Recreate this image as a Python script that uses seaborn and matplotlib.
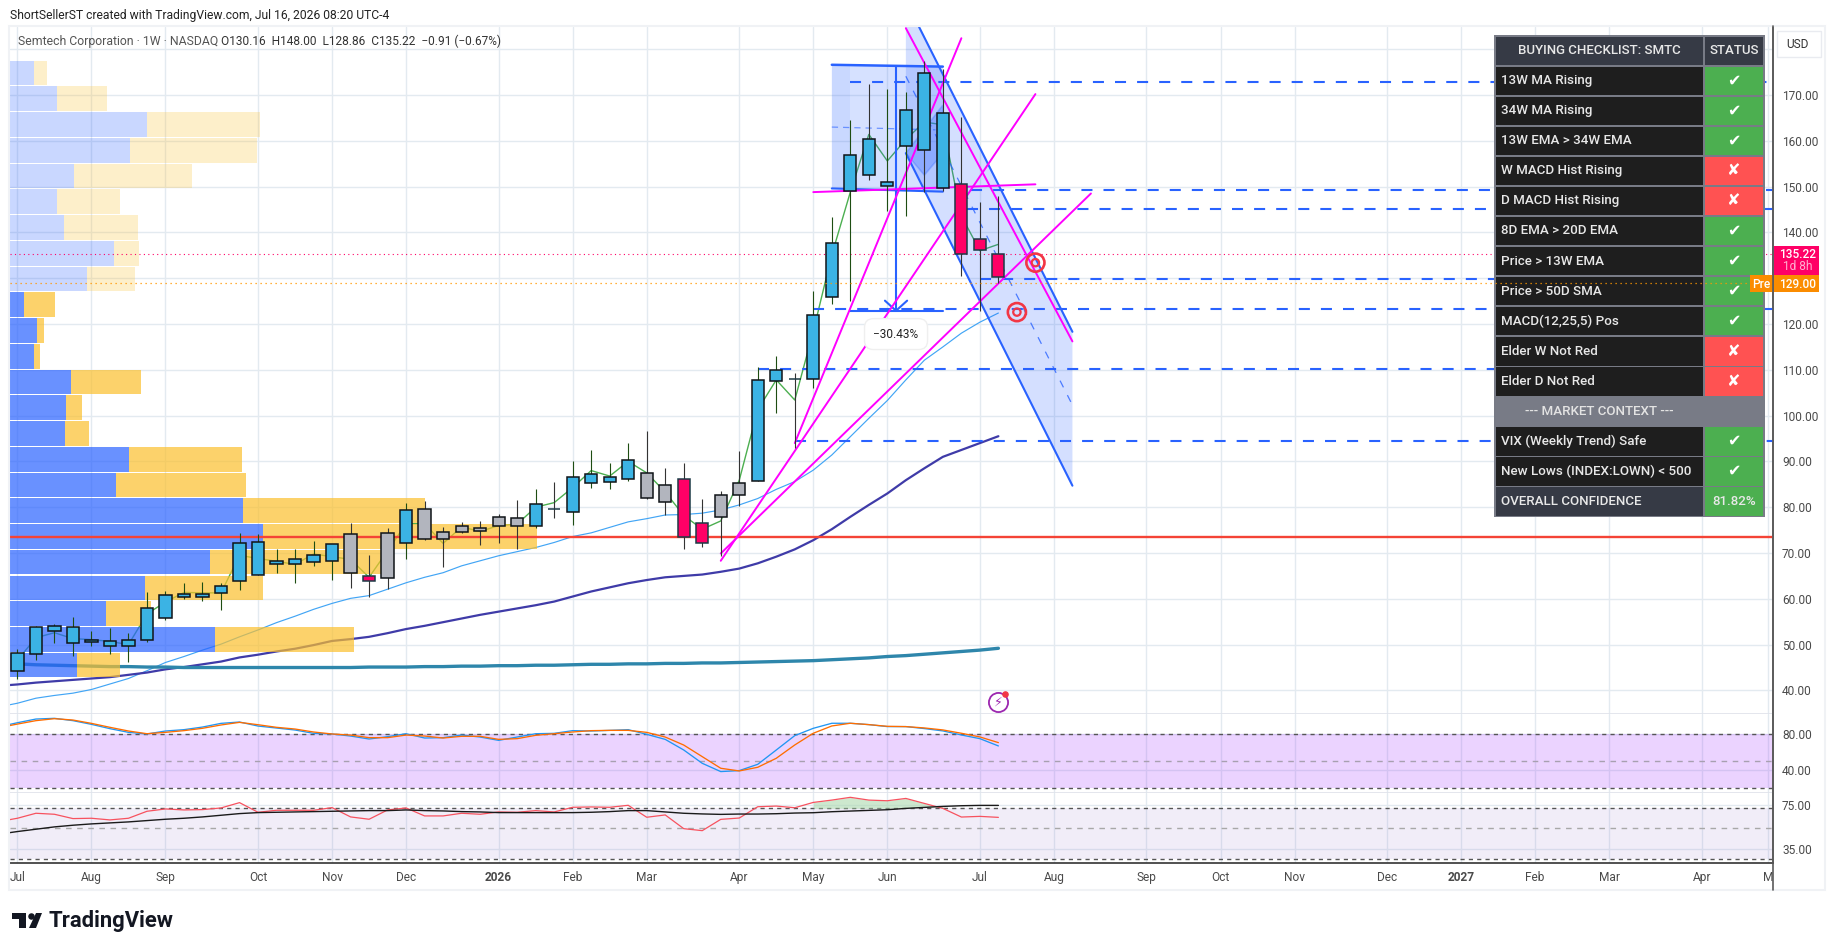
import matplotlib
matplotlib.use("Agg")
import matplotlib.pyplot as plt
from matplotlib.patches import Polygon, Rectangle
import numpy as np
import seaborn as sns

# Weekly candles, prices
body_high = [48.1, 53.8, 54.0, 53.8, 50.9, 50.7, 51.1, 58.1, 60.8, 61.0, 61.0, 62.9, 72.1, 72.3,
             68.2, 68.6, 69.5, 71.9, 74.1, 64.9, 74.3, 79.5, 79.7, 74.5, 76.0, 75.4, 77.8, 77.6,
             80.6, 79.7, 86.5, 87.2, 86.7, 90.3, 87.4, 84.8, 86.1, 76.6, 82.6, 85.2, 107.7, 109.9,
             108.1, 121.9, 137.6, 156.8, 160.3, 150.9, 166.7, 174.7, 166.0, 150.5, 138.5, 135.22]
body_low = [44.2, 47.9, 53.0, 50.3, 50.5, 49.8, 49.8, 51.1, 55.9, 60.3, 60.3, 61.2, 63.8, 65.3,
            67.7, 67.7, 68.0, 68.2, 65.6, 63.8, 64.5, 72.1, 73.0, 73.0, 74.5, 74.9, 76.0, 76.0,
            76.0, 79.7, 78.9, 85.2, 85.6, 86.1, 82.1, 81.1, 73.6, 72.2, 77.9, 82.6, 85.7, 107.5,
            108.1, 108.1, 125.8, 149.1, 152.5, 150.1, 158.8, 158.1, 149.6, 135.2, 136.1, 130.16]
wick_high = [49.0, 54.1, 54.5, 56.1, 52.9, 53.6, 52.6, 61.5, 61.7, 63.4, 63.7, 63.5, 74.4, 74.1,
             70.9, 70.8, 72.6, 71.9, 76.5, 69.6, 75.5, 81.0, 81.4, 75.7, 76.8, 77.0, 78.5, 81.6,
             84.0, 85.5, 90.1, 92.5, 89.6, 94.0, 96.6, 88.6, 89.6, 81.8, 83.5, 92.3, 110.6, 113.0,
             109.3, 127.2, 143.4, 164.5, 172.4, 171.3, 170.65, 177.4, 175.6, 165.2, 146.6, 148.0]
wick_low = [42.6, 46.6, 50.4, 47.5, 49.8, 47.9, 46.2, 50.6, 55.4, 60.0, 59.6, 57.6, 61.9, 65.2,
            65.6, 63.5, 67.2, 64.2, 62.4, 60.5, 62.1, 68.7, 72.8, 67.0, 74.3, 71.8, 72.1, 70.9,
            75.5, 77.7, 76.2, 84.3, 84.0, 85.8, 81.9, 78.3, 70.9, 71.3, 69.3, 80.3, 85.65, 100.6,
            92.9, 106.1, 124.4, 125.1, 151.4, 144.7, 143.65, 148.9, 149.0, 130.5, 122.9, 128.86]
# b blue, B blue with dark wick, g grey, p pink, d doji
candle_state = "bbbbbbbbbbbbbbbbbbgpgbggggggbdbbbbggpp" + "ggbbdbbbBbbBBppp"

hlc_line = [46.6, 51.5, 52.6, 51.3, 51.1, 50.7, 50.0, 56.7, 59.3, 61.4, 61.3, 61.3, 69.5, 68.8,
            68.2, 67.5, 69.8, 69.2, 68.6, 64.7, 70.5, 76.4, 76.4, 72.1, 75.7, 74.7, 76.0, 76.3,
            80.0, 81.0, 84.3, 88.0, 86.8, 90.0, 87.5, 83.3, 78.2, 75.2, 77.0, 85.9, 101.3, 107.8,
            103.4, 118.4, 135.1, 148.8, 161.4, 155.6, 160.3, 164.1, 163.5, 143.6, 136.0, 137.4]
# The next series start one bar before the first candle, off the left edge
ema_fast = [36.4, 37.2, 38.3, 38.9, 39.4, 40.2, 41.4, 42.6, 44.3, 46.1, 47.4, 48.8, 50.1, 51.7, 53.2,
            54.8, 56.2, 57.7, 59.0, 60.1, 60.7, 62.1, 63.5, 64.7, 65.7, 67.2, 68.3, 69.4, 70.3,
            71.2, 72.3, 73.6, 74.4, 75.6, 76.8, 77.5, 78.3, 78.4, 78.7, 79.4, 80.5, 81.9, 83.9,
            85.6, 88.1, 91.4, 95.4, 99.4, 103.3, 107.8, 112.1, 115.0, 118.0, 120.4, 122.4]
ema_slow = [41.0, 41.3, 41.7, 42.0, 42.3, 42.6, 42.9, 43.4, 43.9, 44.6, 45.1, 45.7, 46.3, 47.2, 47.8,
            48.5, 49.1, 49.9, 50.8, 51.2, 51.7, 52.5, 53.4, 54.1, 54.9, 55.7, 56.5, 57.2, 57.9,
            58.6, 59.4, 60.5, 61.6, 62.5, 63.4, 64.1, 64.7, 65.0, 65.3, 65.9, 66.6, 67.75, 69.2,
            70.8, 72.8, 75.2, 77.9, 80.5, 83.0, 85.9, 88.5, 91.0, 92.5, 94.0, 95.5]
stoch_k = [88.0, 92.5, 96.6, 97.4, 94.8, 90.7, 85.9, 81.8, 80.0, 83.3, 84.8, 87.7, 91.8, 93.3, 88.8,
           86.6, 84.4, 80.7, 80.0, 77.7, 74.4, 77.0, 80.3, 75.5, 75.9, 78.8, 76.6, 72.9, 76.6,
           80.3, 80.7, 83.7, 83.3, 84.0, 84.8, 79.6, 74.0, 62.2, 47.4, 38.2, 39.3, 46.3, 62.2,
           78.2, 86.3, 91.9, 91.9, 90.4, 88.2, 88.2, 86.0, 83.4, 78.9, 74.8, 66.7]
stoch_d = [87.0, 91.0, 94.8, 97.0, 95.5, 91.8, 87.4, 83.3, 80.3, 81.8, 83.7, 86.3, 90.0, 92.9, 90.3,
           87.4, 85.5, 82.2, 80.0, 78.8, 75.9, 75.9, 78.8, 77.7, 75.5, 77.4, 77.4, 74.0, 74.8,
           78.5, 80.3, 82.2, 83.7, 84.0, 84.0, 81.8, 76.6, 67.7, 54.8, 41.9, 38.9, 43.0, 53.0,
           67.8, 80.8, 88.9, 91.9, 90.4, 88.5, 88.2, 86.7, 84.5, 80.8, 76.7, 70.4]
rsi_line = [60.0, 63.0, 67.5, 66.6, 62.7, 63.0, 61.5, 63.0, 69.3, 71.4, 70.5, 70.8, 72.3, 77.1, 68.4,
            70.2, 70.2, 70.2, 72.6, 64.2, 62.1, 70.5, 72.3, 65.1, 65.1, 67.5, 66.6, 68.7, 68.4,
            69.9, 68.7, 72.9, 73.2, 72.9, 74.7, 63.9, 66.0, 53.6, 51.8, 62.0, 63.2, 73.4, 74.0,
            72.5, 77.3, 79.4, 81.9, 79.4, 78.8, 80.9, 76.4, 71.9, 64.1, 64.7, 63.8]
rsi_ma = [48.6, 51.0, 53.1, 55.2, 56.7, 57.9, 58.8, 59.7, 60.9, 62.1, 63.0, 64.2, 65.7, 67.2, 68.1,
          68.4, 68.7, 69.0, 69.3, 69.6, 69.9, 69.9, 70.5, 69.9, 69.6, 69.0, 68.7, 68.1, 68.1,
          68.1, 68.1, 68.1, 68.4, 69.0, 69.9, 69.9, 68.7, 67.5, 66.9, 66.5, 66.8, 66.8, 67.1,
          67.7, 68.0, 68.9, 69.5, 70.1, 70.7, 71.9, 72.8, 73.7, 74.3, 74.6, 74.6]
sma_long = [45.8, 45.6, 45.5, 45.4, 45.3, 45.2, 45.2, 45.1, 45.1, 45.0, 45.0, 45.0, 45.0, 45.0,
            45.0, 45.0, 45.0, 45.0, 45.0, 45.1, 45.1, 45.1, 45.2, 45.2, 45.3, 45.3, 45.4, 45.4,
            45.5, 45.5, 45.6, 45.7, 45.7, 45.8, 45.8, 45.9, 45.9, 46.0, 46.0, 46.1, 46.2, 46.3,
            46.4, 46.5, 46.7, 46.9, 47.1, 47.4, 47.6, 47.9, 48.2, 48.5, 48.8, 49.2]

# Volume profile, top row first
vol_up = [24, 47, 137, 120, 64, 47, 54, 104, 77, 14, 27, 24, 61, 56, 55, 119, 106, 233, 253, 200,
          135, 96, 205, 67]
vol_total = [37, 97, 250, 247, 182, 110, 128, 129, 125, 45, 34, 30, 131, 72, 79, 232, 236, 415,
             527, 371, 253, 141, 344, 110]

# Axis ticks
month_ticks = [0, 4, 8, 13, 17, 21, 26, 30, 34, 39, 43, 47, 52, 56, 61, 65, 69, 74, 78, 82, 86, 91, 94.6]
month_labels = ["Jul", "Aug", "Sep", "Oct", "Nov", "Dec", "2026", "Feb", "Mar", "Apr", "May", "Jun",
                "Jul", "Aug", "Sep", "Oct", "Nov", "Dec", "2027", "Feb", "Mar", "Apr", "M"]
price_ticks = [40, 50, 60, 70, 80, 90, 100, 110, 120, 130, 140, 150, 160, 170, 180]
hidden_prices = [130, 180]

# Blue level rays: price, first bar
ray_prices = [172.8, 149.3, 145.1, 129.9, 123.3, 110.2, 94.4]
ray_starts = [45, 51.5, 51.3, 52, 43, 40, 42]

# Magenta trend lines: bar and price at both ends
trend_x = [[43, 55], [48, 57], [51, 42], [55, 38], [38, 58]]
trend_y = [[148.8, 150.5], [184.6, 116.2], [182.4, 94.0], [170.2, 68.3], [69.9, 148.5]]

checklist_labels = ["13W MA Rising", "34W MA Rising", "13W EMA > 34W EMA", "W MACD Hist Rising",
                    "D MACD Hist Rising", "8D EMA > 20D EMA", "Price > 13W EMA", "Price > 50D SMA",
                    "MACD(12,25,5) Pos", "Elder W Not Red", "Elder D Not Red", None,
                    "VIX (Weekly Trend) Safe", "New Lows (INDEX:LOWN) < 500"]
checklist_pass = [True, True, True, False, False, True, True, True, True, False, False, None, True, True]

W, H = 1835, 951
BAR_PX = 18.51
BLUE = "#2962FF"
MAGENTA = "#FF00FF"
TEXT_FONT = ["Roboto", "DejaVu Sans"]

sns.set_theme(style="white")
plt.rcParams["font.family"] = TEXT_FONT


def price_pane(top, bottom):
    """ Adds an axes that spans the chart width between two pixel rows. """
    return fig.add_axes([10 / W, 1 - bottom / H, 1763 / W, (bottom - top) / H])


def draw_line(axes, values, color, width, z, first_bar=0):
    """ Draws one weekly series with seaborn. """
    bars = np.arange(len(values)) + first_bar
    sns.lineplot(x=bars, y=values, ax=axes, color=color, linewidth=width, zorder=z,
                 legend=False, errorbar=None)


fig = plt.figure(figsize=(W / 100, H / 100), dpi=100, facecolor="white")
ax = price_pane(27, 714)
ax_stoch = price_pane(714, 793)
ax_rsi = price_pane(793, 863)

for pane in (ax, ax_stoch, ax_rsi):
    pane.set_xlim(-0.4, 94.85)
    pane.set_xticks(month_ticks)
    pane.grid(True, axis="both", color="#E3EAF0", linewidth=1.0)
    pane.set_axisbelow(True)
    pane.yaxis.tick_right()
    pane.tick_params(axis="both", length=0, labelsize=8.6, labelcolor="#4A4A4A", pad=6.5)
    pane.tick_params(axis="x", labelbottom=False)
    for side in ("top", "left"):
        pane.spines[side].set_visible(False)
    pane.spines["bottom"].set_color("#E0E3EB")
    pane.spines["right"].set_color("#5A5A5A")
    pane.spines["right"].set_linewidth(1.2)

# Main price pane
ax.set_ylim(34.85, 184.85)
ax.set_yticks(price_ticks)
ax.set_yticklabels(["" if p in hidden_prices else f"{p:.2f}" for p in price_ticks])

draw_line(ax, hlc_line, "#4CAF50", 1.0, 1.5)
draw_line(ax, ema_fast, "#42A5F5", 0.85, 1.5, first_bar=-1)
draw_line(ax, ema_slow, "#3F3BA8", 1.6, 1.5, first_bar=-1)
draw_line(ax, sma_long, "#2E86AB", 2.4, 1.5)

# Volume profile
row_step = 5.62
row_centers = 177.6 - (np.arange(len(vol_up)) + 0.5) * row_step
vol_alpha = [0.25 if i < 9 else 0.7 for i in range(len(vol_up))]
for c, up, total, a in zip(row_centers, vol_up, vol_total, vol_alpha):
    ax.barh(c, up / BAR_PX, left=-0.4, height=row_step * 0.96, color=BLUE, alpha=a, lw=0, zorder=2)
    ax.barh(c, (total - up) / BAR_PX, left=-0.4 + up / BAR_PX, height=row_step * 0.96,
            color="#FBC02D", alpha=a, lw=0, zorder=2)

ax.axhline(73.5, color="#F44336", linewidth=1.7, zorder=3)
ax.axhline(135.22, color="#FF0066", linewidth=0.8, linestyle=(0, (1, 3)), zorder=3)

# Measured price range box
ax.add_patch(Polygon([(44, 176.6), (50, 176.2), (50, 148.9), (44, 149.6)], fc=BLUE, alpha=0.19, lw=0, zorder=2.4))
ax.add_patch(Rectangle((44, 149.6), 1, 27, fc=BLUE, alpha=0.07, lw=0, zorder=2.4))
ax.plot([44, 50], [176.6, 176.2], color=BLUE, lw=1.8, zorder=3)
ax.plot([44, 50], [149.6, 148.9], color=BLUE, lw=1.5, zorder=3)
ax.plot([44, 49.6], [163.0, 162.4], color=BLUE, lw=0.9, alpha=0.6, ls=(0, (5, 4)), zorder=3)
ax.plot([45, 50], [122.8, 122.8], color=BLUE, lw=1.5, zorder=3)
ax.plot([47.47, 47.47], [176.4, 122.9], color=BLUE, lw=1.5, zorder=3)
ax.plot([46.87, 47.47, 48.07], [125.1, 122.9, 125.1], color=BLUE, lw=1.5, zorder=3)

# Falling channel
ax.add_patch(Polygon([(48, 190.6), (57, 118.3), (57, 84.7), (48, 157.3)], fc=BLUE, alpha=0.2, lw=0, zorder=2.4))
ax.plot([48, 57], [190.6, 118.3], color=BLUE, lw=1.5, zorder=3)
ax.plot([48, 57], [157.3, 84.7], color=BLUE, lw=1.5, zorder=3)
ax.plot([48, 57], [174.1, 102.3], color=BLUE, lw=0.9, alpha=0.8, dashes=(6, 7), zorder=3)
ax.add_patch(Polygon([(48, 157.3), (50, 167.8), (50, 157.3), (49, 152.5)], fc=BLUE, ec=BLUE, alpha=0.28, lw=1.2, zorder=2.5))

for price, start in zip(ray_prices, ray_starts):
    ax.plot([start, 94.85], [price, price], color=BLUE, lw=1.5, dashes=(5.3, 5.3), zorder=3)

for xs, ys in zip(trend_x, trend_y):
    ax.plot(xs, ys, color=MAGENTA, lw=1.4, zorder=3.5)

# Candles
for i, state in enumerate(candle_state):
    face = {"b": "#3BB3E4", "B": "#3BB3E4", "g": "#B2B5BE", "p": "#FF0066", "d": "#1C3A46"}[state]
    wick = "#1E4D12" if state == "b" else "#333333"
    edge = "#1C3A46" if state in "dp" else "#101418"
    ax.vlines(i, wick_low[i], wick_high[i], color=wick, lw=0.8, zorder=4)
    ax.bar(i, body_high[i] - body_low[i], bottom=body_low[i], width=0.66, color=face,
           edgecolor=edge, linewidth=1.1, zorder=5)

# Targets and alert icon
for bar, price in [(55, 133.4), (54, 122.6)]:
    ax.scatter(bar, price, s=170, fc="none", ec="#F23645", lw=1.9, zorder=6)
    ax.scatter(bar, price, s=28, fc="none", ec="#F23645", lw=1.6, zorder=6)
ax.scatter(53, 37.5, s=190, fc="white", ec="#9C27B0", lw=1.3, zorder=6)
ax.text(53, 37.5, "\u26a1", color="#9C27B0", fontsize=9, ha="center", va="center",
        family="DejaVu Sans", zorder=7)
ax.scatter(53.38, 39.2, s=14, color="#F23645", zorder=7)

ax.text(47.47, 122.8 - 5.0, "\u221230.43%", color="#222222", fontsize=8.6, ha="center", va="center", zorder=7,
        bbox=dict(boxstyle="round,pad=0.75", fc="white", ec="#EFEFEF", lw=1.0))

# Stochastic pane
ax_stoch.set_ylim(14.4, 102.2)
ax_stoch.axhspan(20, 80, color="#9C27FF", alpha=0.2, lw=0, zorder=0.6)
ax_stoch.set_yticks([40, 80])
ax_stoch.set_yticklabels(["40.00", "80.00"])
ax_stoch.axhline(80, color="#555555", lw=1.0, dashes=(3, 3), zorder=1)
ax_stoch.axhline(20, color="#555555", lw=1.0, dashes=(3, 3), zorder=1)
ax_stoch.axhline(50, color="#A8A0B0", lw=1.0, dashes=(4, 4), zorder=1)
draw_line(ax_stoch, stoch_k, "#2196F3", 0.95, 2, first_bar=-1)
draw_line(ax_stoch, stoch_d, "#FF6D00", 0.95, 2, first_bar=-1)

# RSI pane
ax_rsi.set_ylim(22.6, 85.8)
ax_rsi.axhspan(26, 72, color="#7E57C2", alpha=0.1, lw=0, zorder=0.6)
ax_rsi.set_yticks([35, 75])
ax_rsi.set_yticklabels(["35.00", "75.00"])
ax_rsi.axhline(72, color="#555555", lw=1.0, dashes=(3, 3), zorder=1)
ax_rsi.axhline(54, color="#A8A8A8", lw=1.0, dashes=(4, 4), zorder=1)
ax_rsi.axhline(26, color="#555555", lw=1.0, dashes=(3, 3), zorder=1)
rsi_bars = np.arange(43, 51)
ax_rsi.fill_between(rsi_bars, rsi_line[44:52], np.maximum(rsi_ma[44:52], 72),
                    color="#A5D6A7", alpha=0.55, lw=0, zorder=1.2)
draw_line(ax_rsi, rsi_line, "#F7525F", 0.9, 2, first_bar=-1)
draw_line(ax_rsi, rsi_ma, "#1A1A1A", 1.0, 2, first_bar=-1)
ax_rsi.spines["bottom"].set_color("#333333")
ax_rsi.spines["bottom"].set_linewidth(1.2)
ax_rsi.tick_params(axis="x", labelbottom=True, pad=6)
ax_rsi.set_xticklabels(month_labels)
for label in ax_rsi.get_xticklabels():
    if label.get_text() in ("2026", "2027"):
        label.set_fontweight("bold")

# Overlay in pixel coordinates for the frame, table and tags
ov = fig.add_axes([0, 0, 1, 1], zorder=10)
ov.set_xlim(0, W)
ov.set_ylim(H, 0)
ov.axis("off")

ov.add_patch(Rectangle((9, 26), 1816, 864, fc="none", ec="#F0F2F5", lw=1.5))
ov.plot([1773, 1773], [26, 890], color="#5A5A5A", lw=1.2)
ov.text(10, 15, "ShortSellerST created with TradingView.com, Jul 16, 2026 08:20 UTC-4",
        fontsize=8.7, color="#222222", va="center")
ov.text(18, 41.5, "Semtech Corporation \u00b7 1W \u00b7 NASDAQ", fontsize=8.8, color="#555555", va="center")
ov.text(221, 41.5, "O130.16  H148.00  L128.86  C135.22  \u22120.91 (\u22120.67%)", fontsize=8.6,
        color="#333333", va="center")

# Checklist table
ov.add_patch(Rectangle((1494, 35), 271, 482, fc="#787B86", lw=0))
ov.add_patch(Rectangle((1496, 36.7), 206.7, 28.3, fc="#363A45", lw=0))
ov.add_patch(Rectangle((1705, 36.7), 58, 28.3, fc="#363A45", lw=0))
ov.text(1599, 51, "BUYING CHECKLIST: SMTC", color="#E8E8E8", fontsize=9.5, fontweight="medium", ha="center", va="center")
ov.text(1734, 51, "STATUS", color="#E8E8E8", fontsize=9.5, fontweight="medium", ha="center", va="center")
for k, (name, ok) in enumerate(zip(checklist_labels, checklist_pass), start=1):
    top = 36.7 + 30.05 * k
    if name is None:
        ov.text(1599, top + 14, "--- MARKET CONTEXT ---", color="#E3E3E3", fontsize=9.6, fontweight="medium", ha="center", va="center")
        continue
    ov.add_patch(Rectangle((1496, top), 206.7, 28.3, fc="#1E1E1E", lw=0))
    ov.add_patch(Rectangle((1705, top), 58, 28.3, fc="#4CAF50" if ok else "#FF5252", lw=0))
    ov.text(1501, top + 14, name, color="#E8E8E8", fontsize=9.6, fontweight="medium", va="center")
    ov.text(1734, top + 14, "\u2714" if ok else "\u2718", color="white", fontsize=11.5,
            ha="center", va="center", family="DejaVu Sans")
ov.add_patch(Rectangle((1496, 487.4), 206.7, 28.3, fc="#363A45", lw=0))
ov.add_patch(Rectangle((1705, 487.4), 58, 28.3, fc="#4CAF50", lw=0))
ov.text(1501, 501.5, "OVERALL CONFIDENCE", color="#E8E8E8", fontsize=9.6, fontweight="medium", va="center")
ov.text(1734, 501.5, "81.82%", color="#E8E8E8", fontsize=9.6, fontweight="medium", ha="center", va="center")

# Pre-market line runs over the table, up to its tag
ov.hlines(129, 0, 0.985, transform=ax.get_yaxis_transform(), color="#FF9800", lw=0.9,
          linestyle=(0, (1, 3)), clip_on=False)

# Price axis tags
ov.add_patch(Rectangle((1774, 246), 45, 29, fc="#FF0066", lw=0))
ov.text(1798, 254, "135.22", color="white", fontsize=8.6, fontweight="medium", ha="center", va="center")
ov.text(1798, 267, "1d 8h", color="#FFB0D0", fontsize=8.6, ha="center", va="center")
ov.add_patch(Rectangle((1774, 275), 45, 17, fc="#FB8C00", lw=0))
ov.text(1798, 284, "129.00", color="white", fontsize=8.6, fontweight="medium", ha="center", va="center")
ov.add_patch(Rectangle((1750, 275), 23, 17, fc="#FB8C00", lw=0))
ov.text(1761.5, 284, "Pre", color="white", fontsize=8.6, fontweight="medium", ha="center", va="center")
ov.add_patch(Rectangle((1777, 31), 44, 26, fc="white", ec="#E9EBF0", lw=1.0))
ov.text(1797, 44.5, "USD", color="#333333", fontsize=8.6, ha="center", va="center")

# Logo
ov.add_patch(Rectangle((12, 913), 14, 6, fc="#131722", lw=0))
ov.add_patch(Rectangle((19, 913), 7, 15, fc="#131722", lw=0))
ov.scatter(31, 916, s=22, color="#131722", lw=0)
ov.add_patch(Polygon([(36, 913), (42, 913), (36, 928), (29, 928)], fc="#131722", lw=0))
ov.text(48, 921, "TradingView", fontsize=15.8, fontweight="bold", color="#131722", va="center")

fig.savefig("out.png", dpi=100)
